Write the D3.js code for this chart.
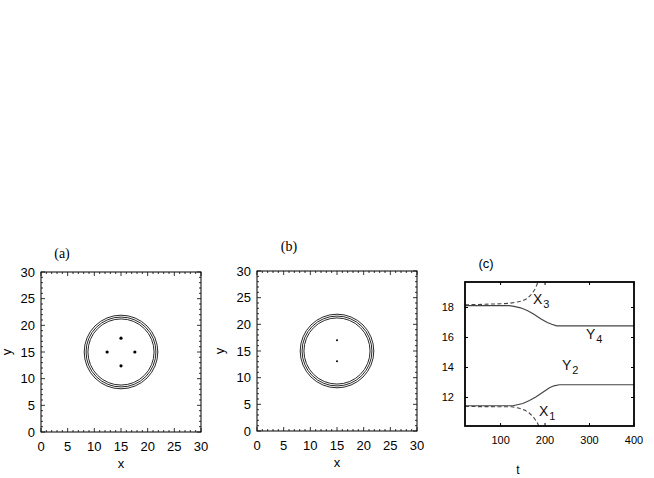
<!DOCTYPE html>
<html><head><meta charset="utf-8">
<script src="https://cdn.jsdelivr.net/npm/d3@7"></script>
<style>body{margin:0;background:#fff}svg{display:block}</style>
</head><body>
<script>
// ---------- data ----------
const gridTicks = [0, 5, 10, 15, 20, 25, 30];
const gridMinor = d3.range(0, 31, 1);
const ringRadii = [6.9, 6.55, 6.2];
const ringCenter = [15, 15];
const dotsA = [[15, 17.6], [12.4, 15], [17.6, 15], [15, 12.4]];
const dotsB = [[15, 17.0], [15, 13.1]];

const tTicks = [100, 200, 300, 400];
const cTicks = [12, 14, 16, 18];
const tY4 = [20, 120, 130, 145, 160, 175, 190, 205, 215, 226, 400];
const vY4 = [18.12, 18.12, 18.08, 17.98, 17.8, 17.55, 17.25, 17.0, 16.88, 16.78, 16.78];
const tY2 = [20, 128, 135, 150, 165, 180, 195, 210, 220, 232, 400];
const vY2 = [11.45, 11.45, 11.5, 11.6, 11.8, 12.05, 12.35, 12.65, 12.78, 12.85, 12.85];
const tX3 = [20, 50, 100, 120, 140, 150, 160, 170, 178, 184];
const vX3 = [18.18, 18.2, 18.25, 18.28, 18.38, 18.45, 18.6, 18.9, 19.25, 19.7];
const tX1 = [20, 125, 140, 155, 165, 175, 182, 186];
const vX1 = [11.4, 11.38, 11.3, 11.15, 10.95, 10.65, 10.35, 10.1];

// ---------- drawing ----------
const W = 654, H = 478;
const svg = d3.select("body").append("svg").attr("width", W).attr("height", H);
const sans = "'Liberation Sans', Arial, sans-serif";
const serif = "'Liberation Serif', 'Times New Roman', serif";

function gridPanel(box, dots, dotR, tag, tagPos, ylabX) {
  const x = d3.scaleLinear().domain([0, 30]).range([box.x0, box.x1]);
  const y = d3.scaleLinear().domain([0, 30]).range([box.y1, box.y0]);
  const g = svg.append("g");
  g.append("rect").attr("x", box.x0).attr("y", box.y0)
    .attr("width", box.x1 - box.x0).attr("height", box.y1 - box.y0)
    .attr("fill", "none").attr("stroke", "#000").attr("stroke-width", 1);
  const tk = g.append("g").attr("stroke", "#000").attr("stroke-width", 0.8);
  gridMinor.forEach(v => {
    const L = (v % 5 === 0) ? 4 : 2;
    tk.append("line").attr("x1", x(v)).attr("x2", x(v)).attr("y1", box.y1).attr("y2", box.y1 - L);
    tk.append("line").attr("x1", x(v)).attr("x2", x(v)).attr("y1", box.y0).attr("y2", box.y0 + L);
    tk.append("line").attr("y1", y(v)).attr("y2", y(v)).attr("x1", box.x0).attr("x2", box.x0 + L);
    tk.append("line").attr("y1", y(v)).attr("y2", y(v)).attr("x1", box.x1).attr("x2", box.x1 - L);
  });
  gridTicks.forEach(v => {
    g.append("text").attr("x", x(v)).attr("y", box.y1 + 19).attr("text-anchor", "middle")
      .attr("font-family", sans).attr("font-size", 13).text(v);
    g.append("text").attr("x", box.x0 - 6).attr("y", y(v) + 4.5).attr("text-anchor", "end")
      .attr("font-family", sans).attr("font-size", 13).text(v);
  });
  g.append("text").attr("x", (box.x0 + box.x1) / 2).attr("y", box.y1 + 36).attr("text-anchor", "middle")
    .attr("font-family", sans).attr("font-size", 13).text("x");
  g.append("text").attr("transform", `translate(${ylabX},${(box.y0 + box.y1) / 2}) rotate(-90)`)
    .attr("text-anchor", "middle").attr("font-family", sans).attr("font-size", 13).text("y");
  g.append("text").attr("x", tagPos[0]).attr("y", tagPos[1]).attr("text-anchor", "middle")
    .attr("font-family", serif).attr("font-size", 14).text(tag);
  ringRadii.forEach(r => {
    g.append("ellipse").attr("cx", x(ringCenter[0])).attr("cy", y(ringCenter[1]))
      .attr("rx", x(r) - x(0)).attr("ry", y(0) - y(r))
      .attr("fill", "none").attr("stroke", "#111").attr("stroke-width", 0.9);
  });
  dots.forEach(d => {
    g.append("circle").attr("cx", x(d[0])).attr("cy", y(d[1])).attr("r", dotR).attr("fill", "#000");
  });
}

gridPanel({x0: 41, x1: 201, y0: 272, y1: 432}, dotsA, 1.6, "(a)", [62, 258], 10.5);
gridPanel({x0: 257, x1: 417, y0: 271, y1: 431}, dotsB, 1.0, "(b)", [289, 251], 224);

// panel (c)
(function () {
  const box = {x0: 465, x1: 634, y0: 282, y1: 426};
  const x = d3.scaleLinear().domain([20, 400]).range([box.x0, box.x1]);
  const y = d3.scaleLinear().domain([10.1, 19.7]).range([box.y1, box.y0]);
  const g = svg.append("g");
  const defs = svg.append("defs");
  defs.append("clipPath").attr("id", "clipc").append("rect")
    .attr("x", box.x0).attr("y", box.y0).attr("width", box.x1 - box.x0).attr("height", box.y1 - box.y0);
  const line = d3.line().x(d => x(d[0])).y(d => y(d[1]));
  const curves = g.append("g").attr("clip-path", "url(#clipc)").attr("fill", "none");
  curves.append("path").datum(tY4.map((t, i) => [t, vY4[i]])).attr("d", line)
    .attr("stroke", "#444").attr("stroke-width", 1.2);
  curves.append("path").datum(tY2.map((t, i) => [t, vY2[i]])).attr("d", line)
    .attr("stroke", "#444").attr("stroke-width", 1.2);
  curves.append("path").datum(tX3.map((t, i) => [t, vX3[i]])).attr("d", line)
    .attr("stroke", "#444").attr("stroke-width", 1.1).attr("stroke-dasharray", "4,2.5");
  curves.append("path").datum(tX1.map((t, i) => [t, vX1[i]])).attr("d", line)
    .attr("stroke", "#444").attr("stroke-width", 1.1).attr("stroke-dasharray", "4,2.5");

  g.append("rect").attr("x", box.x0).attr("y", box.y0)
    .attr("width", box.x1 - box.x0).attr("height", box.y1 - box.y0)
    .attr("fill", "none").attr("stroke", "#000").attr("stroke-width", 1.8);
  const tk = g.append("g").attr("stroke", "#000").attr("stroke-width", 1);
  tTicks.forEach(v => {
    tk.append("line").attr("x1", x(v)).attr("x2", x(v)).attr("y1", box.y1).attr("y2", box.y1 - 3);
    tk.append("line").attr("x1", x(v)).attr("x2", x(v)).attr("y1", box.y0).attr("y2", box.y0 + 3);
    g.append("text").attr("x", x(v)).attr("y", box.y1 + 18).attr("text-anchor", "middle")
      .attr("font-family", sans).attr("font-size", 11).text(v);
  });
  cTicks.forEach(v => {
    tk.append("line").attr("y1", y(v)).attr("y2", y(v)).attr("x1", box.x0).attr("x2", box.x0 + 3);
    tk.append("line").attr("y1", y(v)).attr("y2", y(v)).attr("x1", box.x1).attr("x2", box.x1 - 3);
    g.append("text").attr("x", box.x0 - 11).attr("y", y(v) + 3).attr("text-anchor", "end")
      .attr("font-family", sans).attr("font-size", 11).text(v);
  });
  g.append("text").attr("x", 518).attr("y", 474).attr("text-anchor", "middle")
    .attr("font-family", sans).attr("font-size", 12).text("t");
  g.append("text").attr("x", 486).attr("y", 268).attr("text-anchor", "middle")
    .attr("font-family", sans).attr("font-size", 13).text("(c)");
  const labs = [
    {m: "X", s: "3", x: 533, y: 304},
    {m: "Y", s: "4", x: 586, y: 339},
    {m: "Y", s: "2", x: 562, y: 370},
    {m: "X", s: "1", x: 539, y: 416}
  ];
  labs.forEach(l => {
    const t = g.append("text").attr("x", l.x).attr("y", l.y)
      .attr("font-family", sans).attr("font-size", 14).attr("fill", "#111");
    t.append("tspan").text(l.m);
    t.append("tspan").attr("dy", 4).attr("dx", 1).attr("font-size", 11).text(l.s);
  });
})();
</script>
</body></html>
